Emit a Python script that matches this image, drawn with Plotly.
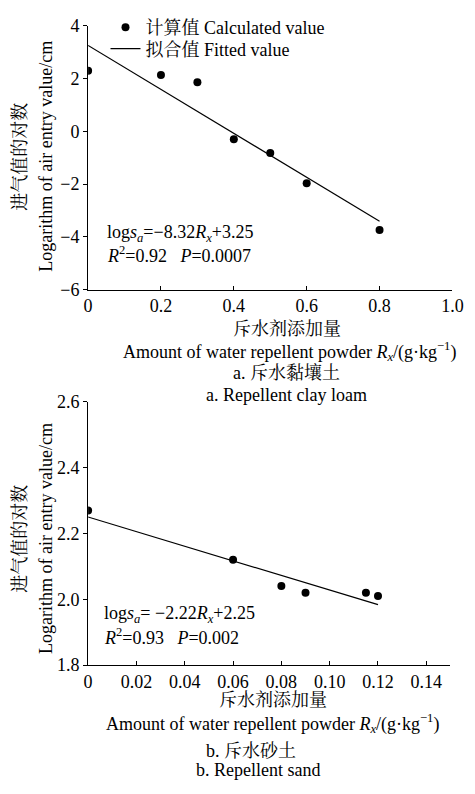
import plotly.graph_objects as go

W, H = 475, 794

# Panel a: repellent clay loam
a_x = [0, 0.2, 0.3, 0.4, 0.5, 0.6, 0.8]
a_y = [2.29, 2.13, 1.86, -0.30, -0.82, -1.97, -3.74]
a_slope, a_icpt = -8.32, 3.25
a_fit_x = [0, 0.8]

# Panel b: repellent sand
b_x = [0, 0.06, 0.08, 0.09, 0.115, 0.12]
b_y = [2.27, 2.12, 2.04, 2.02, 2.02, 2.01]
b_slope, b_icpt = -2.22, 2.25
b_fit_x = [0, 0.12]

a_xticks = [0, 0.2, 0.4, 0.6, 0.8, 1.0]
a_xtick_text = ["0", "0.2", "0.4", "0.6", "0.8", "1.0"]
a_yticks = [-6, -4, -2, 0, 2, 4]
b_xticks = [0, 0.02, 0.04, 0.06, 0.08, 0.10, 0.12, 0.14]
b_xtick_text = ["0", "0.02", "0.04", "0.06", "0.08", "0.10", "0.12", "0.14"]
b_yticks = [1.8, 2.0, 2.2, 2.4, 2.6]
b_ytick_text = ["1.8", "2.0", "2.2", "2.4", "2.6"]

FONT = "Liberation Serif, Times New Roman, Noto Serif CJK SC, Noto Sans CJK SC, serif"
FS = 18

def px(x):
    return x / W

def py(y):
    return 1 - y / H

fig = go.Figure()

fig.add_trace(go.Scatter(x=a_x, y=a_y, mode="markers", name="计算值 Calculated value",
                         marker=dict(color="black", size=8), xaxis="x", yaxis="y", legend="legend"))
fig.add_trace(go.Scatter(x=a_fit_x, y=[a_slope * v + a_icpt for v in a_fit_x], mode="lines",
                         name="拟合值 Fitted value", line=dict(color="black", width=1.2),
                         xaxis="x", yaxis="y", legend="legend2"))
fig.add_trace(go.Scatter(x=b_x, y=b_y, mode="markers", showlegend=False,
                         marker=dict(color="black", size=8), xaxis="x2", yaxis="y2"))
fig.add_trace(go.Scatter(x=b_fit_x, y=[b_slope * v + b_icpt for v in b_fit_x], mode="lines",
                         showlegend=False, line=dict(color="black", width=1.2),
                         xaxis="x2", yaxis="y2"))

common_x = dict(showline=True, linecolor="black", linewidth=1, showgrid=False, zeroline=False,
                ticks="inside", ticklen=4, tickcolor="black", tickfont=dict(size=FS, color="black"))
common_y = dict(showline=True, linecolor="black", linewidth=1, showgrid=False, zeroline=False,
                ticks="outside", ticklen=4, tickcolor="black", tickfont=dict(size=FS, color="black"))

leg_common = dict(xanchor="left", yanchor="top", bgcolor="rgba(0,0,0,0)",
                  font=dict(size=FS), itemwidth=30)

fig.update_layout(
    width=W, height=H,
    margin=dict(l=0, r=0, t=0, b=0),
    paper_bgcolor="white", plot_bgcolor="white",
    font=dict(family=FONT, color="black", size=FS),
    xaxis=dict(domain=[px(86), px(463)], range=[0, 1.0], tickvals=a_xticks, ticktext=a_xtick_text,
               anchor="y", **common_x),
    yaxis=dict(domain=[py(287), py(16)], range=[-6, 4], tickvals=a_yticks, anchor="x", **common_y),
    xaxis2=dict(domain=[px(86), px(461)], range=[0, 0.15], tickvals=b_xticks, ticktext=b_xtick_text,
                anchor="y2", **common_x),
    yaxis2=dict(domain=[py(672), py(402)], range=[1.8, 2.6], tickvals=b_yticks, ticktext=b_ytick_text,
                anchor="x2", **common_y),
    legend=dict(x=px(104), y=py(-1), **leg_common),
    legend2=dict(x=px(104), y=py(21), **leg_common),
    showlegend=True,
)

ann = []
def text(x, y, s, angle=0):
    ann.append(dict(x=px(x), y=py(y), xref="paper", yref="paper", text=s, showarrow=False,
                    xanchor="center", yanchor="middle", textangle=angle, font=dict(size=FS)))

def ltext(x, y, s):
    ann.append(dict(x=px(x), y=py(y), xref="paper", yref="paper", text=s, showarrow=False,
                    xanchor="left", yanchor="middle", font=dict(size=FS)))

# Panel a texts
text(292, 327, "斥水剂添加量")
text(294, 350, "Amount of water repellent powder <i>R<sub>x</sub></i>/(g·kg<sup>−1</sup>)")
text(291, 372, "a. 斥水黏壤土")
text(291, 395, "a. Repellent clay loam")
text(16, 150, "进气值的对数", angle=-90)
text(43, 150, "Logarithm of air entry value/cm", angle=-90)
ltext(103, 229, "log<i>s<sub>a</sub></i>=−8.32<i>R<sub>x</sub></i>+3.25")
ltext(103, 251, "<i>R</i><sup>2</sup>=0.92   <i>P</i>=0.0007")

# Panel b texts
text(277, 708, "斥水剂添加量")
text(277, 732, "Amount of water repellent powder <i>R<sub>x</sub></i>/(g·kg<sup>−1</sup>)")
text(255, 760, "b. 斥水砂土")
text(262, 780, "b. Repellent sand")
text(16, 542, "进气值的对数", angle=-90)
text(43, 542, "Logarithm of air entry value/cm", angle=-90)
ltext(100, 620, "log<i>s<sub>a</sub></i>= −2.22<i>R<sub>x</sub></i>+2.25")
ltext(100, 643, "<i>R</i><sup>2</sup>=0.93   <i>P</i>=0.002")

fig.update_layout(annotations=ann)

fig.write_html("out.html", config={"displayModeBar": False},
               post_script="document.body.style.margin='0px';document.body.style.overflow='hidden';")
